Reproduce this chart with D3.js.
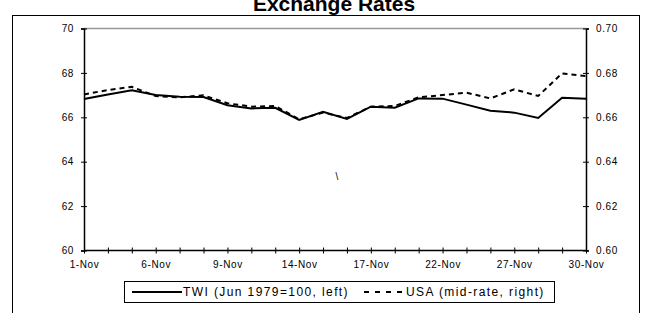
<!DOCTYPE html>
<html>
<head>
<meta charset="utf-8">
<script src="https://cdn.jsdelivr.net/npm/d3@7"></script>
<style>
  body { margin: 0; background: #fff; }
  svg { display: block; }
  text { font-family: "Liberation Sans", Arial, sans-serif; fill: #000; }
</style>
</head>
<body>
<div id="chart"></div>
<script>
// business days, November
const dates = ["1-Nov", "2-Nov", "3-Nov", "6-Nov", "7-Nov", "8-Nov", "9-Nov", "10-Nov",
  "13-Nov", "14-Nov", "15-Nov", "16-Nov", "17-Nov", "20-Nov", "21-Nov", "22-Nov",
  "23-Nov", "24-Nov", "27-Nov", "28-Nov", "29-Nov", "30-Nov"];
const tickDates = ["1-Nov", "6-Nov", "9-Nov", "14-Nov", "17-Nov", "22-Nov", "27-Nov", "30-Nov"];
const twi = [66.82, 67.03, 67.22, 67.0, 66.93, 66.91, 66.54, 66.40, 66.43, 65.88, 66.25,
  65.93, 66.48, 66.43, 66.85, 66.84, 66.57, 66.30, 66.21, 65.97, 66.88, 66.84];
const usa = [0.6703, 0.6723, 0.6737, 0.6696, 0.6690, 0.6699, 0.6663, 0.6648, 0.6651, 0.6591,
  0.6621, 0.6597, 0.6648, 0.6651, 0.6690, 0.6700, 0.6711, 0.6685, 0.6726, 0.6696, 0.6798, 0.6786];
const leftTicks = [60, 62, 64, 66, 68, 70];
const rightTicks = [0.60, 0.62, 0.64, 0.66, 0.68, 0.70];
const seriesNames = ["TWI (Jun 1979=100, left)", "USA (mid-rate, right)"];

const width = 650, height = 313;
const plot = { left: 84, right: 586, top: 28.5, bottom: 250.5 };

const svg = d3.select("#chart").append("svg")
  .attr("width", width)
  .attr("height", height);

// outer frame + title (title is clipped at the top edge)
svg.append("rect")
  .attr("x", 12.5).attr("y", 15.5)
  .attr("width", 627).attr("height", 320)
  .attr("fill", "none").attr("stroke", "#000").attr("stroke-width", 1);

svg.append("text")
  .attr("x", 334).attr("y", 11)
  .attr("text-anchor", "middle")
  .style("font-size", "21px").style("font-weight", "bold")
  .text("Exchange Rates");

const x = d3.scalePoint().domain(dates).range([plot.left, plot.right]);
const yL = d3.scaleLinear().domain([60, 70]).range([plot.bottom, plot.top]);
const yR = d3.scaleLinear().domain([0.60, 0.70]).range([plot.bottom, plot.top]);

// top grey line at 70
svg.append("line")
  .attr("x1", plot.left).attr("x2", plot.right)
  .attr("y1", yL(70)).attr("y2", yL(70))
  .attr("stroke", "#999").attr("stroke-width", 1.5);

function styleAxis(g) {
  g.select(".domain").attr("stroke", "#000").attr("stroke-width", 1.5);
  g.selectAll(".tick line").attr("stroke", "#000");
  g.selectAll(".tick text")
    .style("font-size", "10px")
    .style("letter-spacing", "0.6px")
    .attr("fill", "#222");
}

// ticks cross the axis lines
const gl = svg.append("g")
  .attr("transform", `translate(${plot.left},0)`)
  .call(d3.axisLeft(yL).tickValues(leftTicks).tickSize(3).tickPadding(7).tickFormat(d3.format("d")))
  .call(styleAxis);
gl.selectAll(".tick line").attr("x1", 3).attr("x2", -3);

const gr = svg.append("g")
  .attr("transform", `translate(${plot.right},0)`)
  .call(d3.axisRight(yR).tickValues(rightTicks).tickSize(3).tickPadding(7).tickFormat(d3.format(".2f")))
  .call(styleAxis);
gr.selectAll(".tick line").attr("x1", -3).attr("x2", 3);

const gx = svg.append("g")
  .attr("transform", `translate(0,${plot.bottom})`)
  .call(d3.axisBottom(x).tickSize(3).tickPadding(7).tickFormat(d => tickDates.includes(d) ? d : ""))
  .call(styleAxis);
gx.selectAll(".tick line").attr("y1", -3).attr("y2", 3);
gx.select(".domain").attr("d", `M${plot.left},0H${plot.right}`);

// lines
const lineL = d3.line().x((d, i) => x(dates[i])).y(d => yL(d));
const lineR = d3.line().x((d, i) => x(dates[i])).y(d => yR(d));

svg.append("path").datum(usa)
  .attr("d", lineR)
  .attr("fill", "none").attr("stroke", "#000")
  .attr("stroke-width", 2).attr("stroke-dasharray", "5,4");

svg.append("path").datum(twi)
  .attr("d", lineL)
  .attr("fill", "none").attr("stroke", "#000")
  .attr("stroke-width", 2);

// stray mark in the plot
svg.append("text")
  .attr("x", 337).attr("y", 180)
  .attr("text-anchor", "middle")
  .style("font-size", "10px").attr("fill", "#666")
  .text("\\");

// legend
const lg = svg.append("g");
lg.append("rect")
  .attr("x", 124.5).attr("y", 281.5)
  .attr("width", 430).attr("height", 21)
  .attr("fill", "#fff").attr("stroke", "#000");

lg.append("line")
  .attr("x1", 132).attr("x2", 182).attr("y1", 292).attr("y2", 292)
  .attr("stroke", "#000").attr("stroke-width", 2);
lg.append("text")
  .attr("x", 183).attr("y", 296)
  .style("font-size", "12px").style("letter-spacing", "1.4px")
  .text(seriesNames[0]);

lg.append("line")
  .attr("x1", 364).attr("x2", 406).attr("y1", 292).attr("y2", 292)
  .attr("stroke", "#000").attr("stroke-width", 2).attr("stroke-dasharray", "5,6");
lg.append("text")
  .attr("x", 406).attr("y", 296)
  .style("font-size", "12px").style("letter-spacing", "1.4px")
  .text(seriesNames[1]);
</script>
</body>
</html>
